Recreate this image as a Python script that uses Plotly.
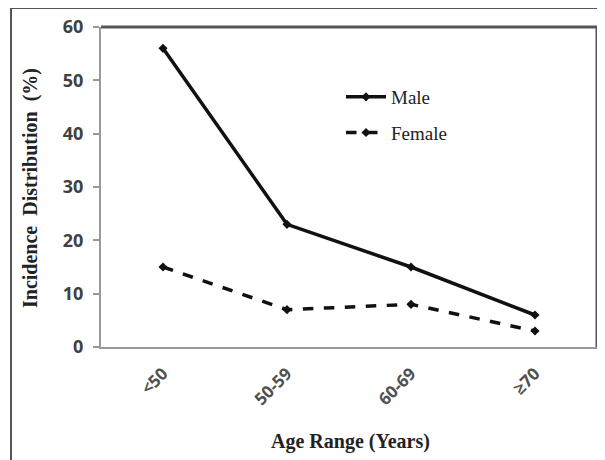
import plotly.graph_objects as go

categories = ["<50", "50-59", "60-69", "≥70"]
male = [56, 23, 15, 6]
female = [15, 7, 8, 3]
y_ticks = [0, 10, 20, 30, 40, 50, 60]

fig = go.Figure()
fig.add_trace(go.Scatter(
    x=categories, y=male, name="Male", mode="lines+markers",
    legendgroup="m",
    line=dict(color="#111111", width=3.5),
    marker=dict(symbol="diamond", size=7, color="#111111"),
))
fig.add_trace(go.Scatter(
    x=categories, y=female, name="Female", mode="lines+markers",
    legendgroup="f",
    line=dict(color="#111111", width=3.5, dash="dash"),
    marker=dict(symbol="diamond", size=7, color="#111111"),
))

OFF = 8  # page body margin
W, H = 605 - OFF, 460 - OFF
# plot area in page pixels
PL, PR, PT, PB = 101, 597, 27, 347
L, R, T, B = PL - OFF, (W + OFF) - PR, PT - OFF, (H + OFF) - PB
pw, ph = PR - PL, PB - PT


def px_x(x):
    return (x - PL) / pw


def px_y(y):
    return (PB - y) / ph


fig.update_layout(
    width=W, height=H,
    margin=dict(l=L, r=R, t=T, b=B, autoexpand=False),
    paper_bgcolor="white", plot_bgcolor="white",
    showlegend=True,
    legend=dict(
        x=px_x(341), y=px_y(78), xanchor="left", yanchor="top",
        bgcolor="rgba(0,0,0,0)",
        font=dict(family="Liberation Serif", size=19, color="#222222"),
        tracegroupgap=8, itemwidth=40,
    ),
    xaxis=dict(
        type="category", range=[-0.5, 3.5],
        showline=True, linecolor="#999999", linewidth=2,
        showgrid=False, ticks="", tickangle=-45, ticklabelstandoff=8,
        tickfont=dict(family="Open Sans", size=17, color="#505050", weight="bold"),
        fixedrange=True,
    ),
    yaxis=dict(
        range=[0, 60], tickvals=y_ticks,
        showline=True, linecolor="#999999", linewidth=2,
        showgrid=False, ticks="outside", ticklen=6, tickcolor="#999999",
        tickwidth=2, ticklabelstandoff=6,
        tickfont=dict(family="Open Sans", size=18, color="#404040", weight="bold"),
        zeroline=False, fixedrange=True,
    ),
    annotations=[
        dict(text="<b>Incidence  Distribution  (%)</b>", textangle=-90,
             xref="paper", yref="paper", x=px_x(30), y=px_y(188),
             xanchor="center", yanchor="middle", showarrow=False,
             font=dict(family="Liberation Serif", size=20, color="#222222")),
        dict(text="<b>Age Range (Years)</b>",
             xref="paper", yref="paper", x=px_x(350), y=px_y(441),
             xanchor="center", yanchor="middle", showarrow=False,
             font=dict(family="Liberation Serif", size=20, color="#222222")),
    ],
    shapes=[
        # outer frame
        dict(type="line", xref="paper", yref="paper",
             x0=px_x(11), x1=px_x(11), y0=px_y(8), y1=px_y(470),
             line=dict(color="#555555", width=2)),
        dict(type="line", xref="paper", yref="paper",
             x0=px_x(11), x1=px_x(615), y0=px_y(8), y1=px_y(8),
             line=dict(color="#555555", width=2)),
        # plot box top and right
        dict(type="line", xref="paper", yref="paper",
             x0=0, x1=1, y0=1, y1=1,
             line=dict(color="#555555", width=3)),
        dict(type="line", xref="paper", yref="paper",
             x0=1, x1=1, y0=0, y1=1,
             line=dict(color="#555555", width=3)),
    ],
)

fig.write_html("out.html")
